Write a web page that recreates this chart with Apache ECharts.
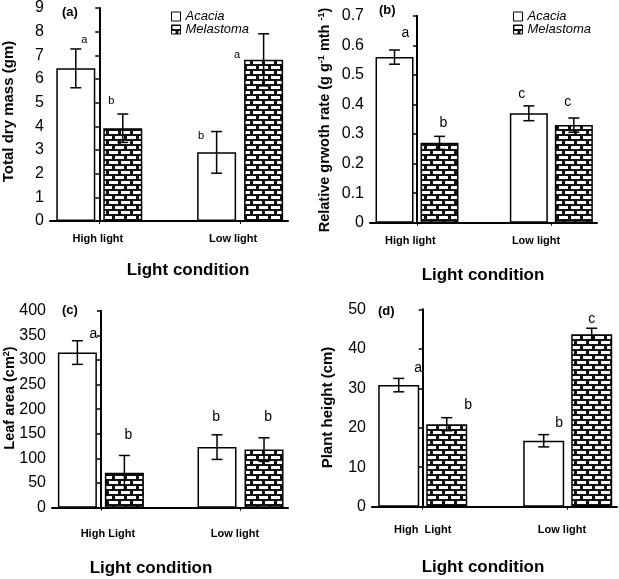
<!DOCTYPE html>
<html><head><meta charset="utf-8">
<script src="https://cdn.jsdelivr.net/npm/echarts@6/dist/echarts.min.js"></script>
<style>html,body{margin:0;padding:0;background:#fff}#c{width:619px;height:579px}</style>
</head><body><div id="c"></div><script>
// ---------------- DATA ----------------
const speciesNames = ['Acacia', 'Melastoma'];
const conditionsA = ['High light', 'Low light'];
const conditionsB = ['High light', 'Low light'];
const conditionsC = ['High Light', 'Low light'];
const conditionsD = ['High  Light', 'Low light'];

// (a) Total dry mass (gm)
const dryMassAcacia = [6.45, 2.9];
const dryMassAcaciaErr = [0.82, 0.88];
const dryMassMelastoma = [3.92, 6.81];
const dryMassMelastomaErr = [0.6, 1.1];
const dryMassLettersAcacia = ['a', 'b'];
const dryMassLettersMelastoma = ['b', 'a'];

// (b) Relative growth rate
const rgrAcacia = [0.56, 0.37];
const rgrAcaciaErr = [0.024, 0.025];
const rgrMelastoma = [0.27, 0.33];
const rgrMelastomaErr = [0.022, 0.024];
const rgrLettersAcacia = ['a', 'c'];
const rgrLettersMelastoma = ['b', 'c'];

// (c) Leaf area (cm2)
const leafAcacia = [315, 123];
const leafAcaciaErr = [24, 25];
const leafMelastoma = [71, 118];
const leafMelastomaErr = [35, 24];
const leafLettersAcacia = ['a', 'b'];
const leafLettersMelastoma = ['b', 'b'];

// (d) Plant height (cm)
const heightAcacia = [30.8, 16.7];
const heightAcaciaErr = [1.7, 1.55];
const heightMelastoma = [20.9, 43.7];
const heightMelastomaErr = [1.65, 1.5];
const heightLettersAcacia = ['a', 'b'];
const heightLettersMelastoma = ['b', 'c'];

// y-axis scales [min, max, step]
const dryMassTicks = [0, 9, 1];
const rgrTicks = [0, 0.7, 0.1];
const leafTicks = [0, 400, 50];
const heightTicks = [0, 50, 10];

// ---------------- LAYOUT / STYLE ----------------
const FONT = "'Liberation Sans', Arial, sans-serif";
const X_MIN = -0.35, X_MAX = 1.34;
const CAP = 11;

const panels = [
  { tag: '(a)', cats: conditionsA, ticks: dryMassTicks,
    acacia: dryMassAcacia, acaciaErr: dryMassAcaciaErr, mel: dryMassMelastoma, melErr: dryMassMelastomaErr,
    lettersA: dryMassLettersAcacia, lettersM: dryMassLettersMelastoma,
    grid: { left: 50, top: 6, width: 238, height: 215 }, barWidth: 39, gapPx: 8,
    labelAt: [-0.01, 0.95], labelMargin: 12, letterSize: 11,
    letterOff: [[[8.5, -8.6], [-15.5, 4]], [[-11.5, -13], [-26.5, 21]]],
    tagPos: [62, 12], titlePos: [188, 270], yTitlePos: [9, 111.5], yTitleSize: 15,
    yTitle: 'Total dry mass (gm)', legend: { left: 171, top: 10 } },
  { tag: '(b)', cats: conditionsB, ticks: rgrTicks,
    acacia: rgrAcacia, acaciaErr: rgrAcaciaErr, mel: rgrMelastoma, melErr: rgrMelastomaErr,
    lettersA: rgrLettersAcacia, lettersM: rgrLettersMelastoma,
    grid: { left: 370, top: 15.7, width: 227, height: 207 }, barWidth: 38, gapPx: 7,
    labelAt: [-0.05, 0.886], labelMargin: 12.5, letterSize: 14,
    letterOff: [[[11, -17], [-7, -12]], [[4, -13.4], [-6, -16]]],
    tagPos: [379, 10], titlePos: [483, 275], yTitlePos: [325, 120], yTitleSize: 14.5,
    yTitleRich: 'Relative grwoth rate (g g{sup|-1} mth {sup|-1})', legend: { left: 513, top: 10 },
    fmt: v => v === 0 ? '0' : v.toFixed(1) },
  { tag: '(c)', cats: conditionsC, ticks: leafTicks,
    acacia: leafAcacia, acaciaErr: leafAcaciaErr, mel: leafMelastoma, melErr: leafMelastomaErr,
    lettersA: leafLettersAcacia, lettersM: leafLettersMelastoma,
    grid: { left: 52, top: 310.7, width: 236, height: 197 }, barWidth: 39, gapPx: 8,
    labelAt: [0.05, 0.96], labelMargin: 21, letterSize: 14,
    letterOff: [[[16, -6.7], [-1, -18]], [[4, -20.5], [4, -21]]],
    tagPos: [62, 310], titlePos: [151, 568], yTitlePos: [10, 398], yTitleSize: 14.5,
    yTitleRich: 'Leaf area (cm{sup|2})' },
  { tag: '(d)', cats: conditionsD, ticks: heightTicks,
    acacia: heightAcacia, acaciaErr: heightAcaciaErr, mel: heightMelastoma, melErr: heightMelastomaErr,
    lettersA: heightLettersAcacia, lettersM: heightLettersMelastoma,
    grid: { left: 372, top: 309.3, width: 245, height: 197.4 }, barWidth: 41, gapPx: 7,
    labelAt: [0, 0.96], labelMargin: 18, letterSize: 14,
    letterOff: [[[19.5, -10], [15.5, -12]], [[21.5, -13], [0, -9]]],
    tagPos: [378, 311], titlePos: [483, 567], yTitlePos: [328, 407.5], yTitleSize: 15,
    yTitle: 'Plant height (cm)' }
];

// brick pattern
function makeBrick() {
  const c = document.createElement('canvas');
  c.width = 12; c.height = 10;
  const g = c.getContext('2d');
  g.fillStyle = '#111'; g.fillRect(0, 0, 12, 10);
  g.fillStyle = '#fff';
  g.fillRect(1, 1, 9, 3);
  g.fillRect(7, 6, 9, 3);
  g.fillRect(-5, 6, 9, 3);
  return c;
}
const brick = { image: makeBrick(), repeat: 'repeat' };

const grids = [], xAxes = [], yAxes = [], series = [], graphics = [], legends = [];

panels.forEach((p, k) => {
  grids.push(Object.assign({ containLabel: false }, p.grid));
  xAxes.push({
    type: 'value', gridIndex: k, min: X_MIN, max: X_MAX,
    axisLine: { show: true, onZero: false, lineStyle: { color: '#000', width: 2 } },
    axisTick: { show: true, customValues: [0, 1], length: 3, lineStyle: { color: '#000', width: 1 } },
    axisLabel: { customValues: p.labelAt, margin: p.labelMargin, color: '#000', fontFamily: FONT,
      fontSize: 11, fontWeight: 'bold', formatter: v => p.cats[v < 0.5 ? 0 : 1] },
    splitLine: { show: false }
  });
  yAxes.push({
    type: 'value', gridIndex: k, min: p.ticks[0], max: p.ticks[1], interval: p.ticks[2],
    axisLine: { show: true, lineStyle: { color: '#000', width: 2 } },
    axisTick: { show: true, inside: false, length: 4, lineStyle: { color: '#000', width: 1.5 } },
    axisLabel: { color: '#000', fontFamily: FONT, fontSize: 16, margin: 6, formatter: p.fmt },
    splitLine: { show: false }
  });
  const gapPct = (p.gapPx / p.barWidth * 100).toFixed(1) + '%';
  series.push({
    name: speciesNames[0], type: 'bar', xAxisIndex: k, yAxisIndex: k,
    barWidth: p.barWidth, barGap: gapPct,
    itemStyle: { color: '#fff', borderColor: '#000', borderWidth: 1.5 },
    data: p.acacia.map((v, i) => [i, v])
  });
  series.push({
    name: speciesNames[1], type: 'bar', xAxisIndex: k, yAxisIndex: k,
    barWidth: p.barWidth, barGap: gapPct,
    itemStyle: { color: brick, borderColor: '#000', borderWidth: 1.5 },
    data: p.mel.map((v, i) => [i, v])
  });
  [[p.acacia, p.acaciaErr, p.lettersA], [p.mel, p.melErr, p.lettersM]].forEach((set, s) => {
    series.push({
      type: 'custom', xAxisIndex: k, yAxisIndex: k, z: 5,
      encode: { x: 0, y: 1 },
      data: set[0].map((v, i) => [i, v, set[1][i]]),
      renderItem: (params, api) => {
        const i = params.dataIndex;
        const x = api.value(0), v = api.value(1), e = api.value(2);
        const top = api.coord([x, v + e]);
        const bot = api.coord([x, v - e]);
        const cx = top[0] + (s === 0 ? -1 : 1) * (p.barWidth + p.gapPx) / 2;
        const off = p.letterOff[s][i];
        const ls = { stroke: '#000', lineWidth: 1.5 };
        return { type: 'group', children: [
          { type: 'line', shape: { x1: cx, y1: top[1], x2: cx, y2: bot[1] }, style: ls },
          { type: 'line', shape: { x1: cx - CAP / 2, y1: top[1], x2: cx + CAP / 2, y2: top[1] }, style: ls },
          { type: 'line', shape: { x1: cx - CAP / 2, y1: bot[1], x2: cx + CAP / 2, y2: bot[1] }, style: ls },
          { type: 'text', x: cx + off[0], y: top[1] + off[1],
            style: { text: set[2][i], fill: '#000', fontSize: p.letterSize, fontFamily: FONT,
              align: 'center', verticalAlign: 'middle' } }
        ] };
      }
    });
  });
  // panel tag
  graphics.push({ type: 'text', x: p.tagPos[0], y: p.tagPos[1],
    style: { text: p.tag, fill: '#000', fontSize: 13, fontWeight: 'bold', fontFamily: FONT,
      align: 'left', verticalAlign: 'middle' } });
  // x title
  graphics.push({ type: 'text', x: p.titlePos[0], y: p.titlePos[1],
    style: { text: 'Light condition', fill: '#000', fontSize: 17, fontWeight: 'bold', fontFamily: FONT,
      align: 'center', verticalAlign: 'middle' } });
  // y title
  const ySt = { fill: '#000', fontSize: p.yTitleSize, fontWeight: 'bold', fontFamily: FONT,
    align: 'center', verticalAlign: 'middle' };
  if (p.yTitleRich) {
    ySt.text = p.yTitleRich;
    ySt.rich = { sup: { fontSize: 9, fontWeight: 'bold', fontFamily: FONT, fill: '#000', verticalAlign: 'top' } };
  } else {
    ySt.text = p.yTitle;
  }
  graphics.push({ type: 'text', x: p.yTitlePos[0], y: p.yTitlePos[1], rotation: Math.PI / 2, style: ySt });
  if (p.legend) {
    legends.push({
      data: speciesNames, left: p.legend.left, top: p.legend.top, orient: 'vertical',
      itemWidth: 9, itemHeight: 9, itemGap: 0, itemTextGap: 4, padding: 0, icon: 'rect',
      itemStyle: { borderColor: '#000', borderWidth: 1 },
      textStyle: { fontFamily: FONT, fontStyle: 'italic', fontSize: 13, color: '#000' },
      selectedMode: false
    });
  }
});

const chart = echarts.init(document.getElementById('c'), null, { renderer: 'canvas' });
chart.setOption({
  animation: false,
  backgroundColor: '#fff',
  grid: grids, xAxis: xAxes, yAxis: yAxes,
  legend: legends,
  series: series,
  graphic: graphics
});
</script></body></html>
